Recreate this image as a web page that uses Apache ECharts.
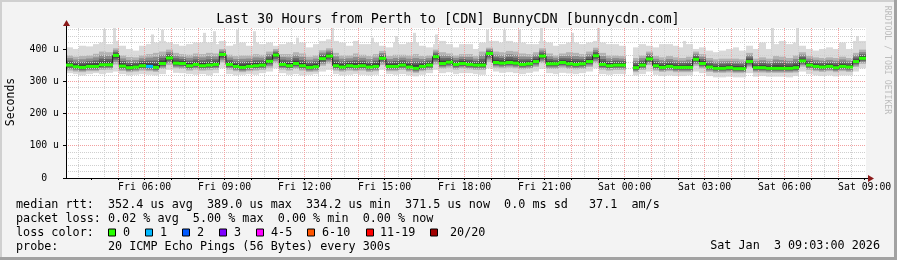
<!DOCTYPE html>
<html>
<head>
<meta charset="utf-8">
<script src="https://cdn.jsdelivr.net/npm/echarts@6/dist/echarts.min.js"></script>
<style>
  html, body { margin: 0; padding: 0; background: #f3f3f3; }
  #main { width: 897px; height: 260px; }
</style>
</head>
<body>
<div id="main"></div>
<script>
// 15 minute columns, first one starts Fri 03:03 (hours counted from Fri 00:00)
var hourStart = 3.05;
var stepH = 0.25;

// median rtt (us)
var med = [
  350,345,343,346,346,351,351,380,347,342,
  344,348,346,343,355,372,356,355,348,352,
  348,350,352,383,352,346,343,346,348,350,
  362,381,352,348,355,348,343,345,370,378,
  348,344,348,346,348,344,346,371,346,346,
  350,344,340,346,350,376,355,359,352,355,
  352,350,350,386,358,356,358,356,352,354,
  361,378,354,354,358,354,352,354,361,379,
  352,348,350,350,null,342,350,369,348,343,
  346,343,343,343,368,355,344,340,340,342,
  339,339,361,342,342,340,340,340,340,342,
  363,350,346,344,346,342,346,344,361,371
];
// lowest ping
var lo = [
  325,322,318,322,325,322,326,330,322,318,
  320,322,320,318,322,335,326,325,322,320,
  322,318,325,340,322,318,320,322,320,325,
  330,340,325,320,322,318,320,322,330,335,
  322,318,320,322,320,318,320,335,322,320,
  322,318,315,320,325,335,325,328,322,325,
  325,322,320,340,330,326,328,325,322,326,
  330,338,325,322,326,324,322,325,330,340,
  322,320,322,322,null,318,322,330,320,316,
  318,316,316,318,330,325,316,312,312,314,
  312,312,325,314,316,314,314,314,312,316,
  330,322,318,316,318,315,318,318,330,340
];
// lower edge of the dense smoke
var q1 = [
  333,330,328,331,331,335,336,352,332,328,
  330,333,331,329,338,350,340,338,333,336,
  333,334,336,358,336,331,328,331,333,335,
  342,356,336,333,338,333,329,330,348,355,
  333,330,333,331,333,329,331,350,331,331,
  335,330,326,331,335,352,339,342,336,339,
  337,335,335,360,342,340,342,340,337,338,
  344,356,338,338,342,338,337,338,344,356,
  336,333,335,335,null,328,335,350,333,329,
  331,328,328,328,348,339,329,326,326,327,
  325,325,343,327,327,326,326,326,326,327,
  345,335,331,329,331,328,331,329,344,354
];
// upper edge of the dense smoke
var q3 = [
  380,376,378,380,385,392,390,402,380,375,
  374,380,384,388,392,398,388,384,382,386,
  384,388,386,400,382,378,380,380,384,382,
  392,400,384,384,390,386,376,380,396,402,
  388,380,380,386,382,378,384,394,378,382,
  382,380,384,378,380,398,390,386,380,384,
  384,378,392,404,392,390,394,392,386,384,
  390,402,386,380,386,390,388,384,392,404,
  388,380,380,378,null,372,380,392,378,374,
  378,374,372,376,392,384,372,368,370,370,
  370,368,388,370,374,370,378,376,372,380,
  390,378,374,372,374,372,376,372,388,398
];
// highest ping (body of the smoke)
var hi = [
  405,400,410,408,415,420,415,425,410,400,
  395,410,415,420,425,420,415,410,415,420,
  420,420,415,425,410,415,420,410,420,415,
  420,410,415,420,415,420,405,415,425,430,
  425,420,410,425,415,415,420,410,405,420,
  415,420,420,410,405,415,425,415,405,415,
  415,400,420,425,425,420,425,420,420,415,
  415,425,420,410,415,420,420,415,420,425,
  420,415,415,410,null,405,415,410,405,415,
  415,410,405,415,400,405,395,390,395,400,
  405,395,410,400,420,400,415,425,415,420,
  410,400,395,400,405,400,420,400,425,425
];
// single slow pings sticking out of the smoke
var spikeHour = [4.47, 4.85, 6.27, 6.65, 8.22, 8.6, 9.46, 10.1, 11.71, 13.03, 14.52, 15.42,
  16.1, 16.92, 18.84, 19.47, 20.04, 20.86, 22.02, 23.0, 26.22, 29.52, 30.46, 32.71];
var spikeTop = [462, 465, 445, 460, 450, 455, 460, 455, 435, 465, 435, 440,
  450, 445, 460, 460, 460, 465, 450, 465, 425, 465, 465, 440];
// lost pings per column (only non zero ones)
var lossAt = { 12: 1 };

var yTicks = [0, 100, 200, 300, 400];
var xLabelHours = [6, 9, 12, 15, 18, 21, 24, 27, 30, 33];

var lossColors = ['#26ff00', '#00b8ff', '#0059ff', '#7e00ff', '#ff00ff', '#ff5500', '#ff0000', '#a10000'];
var lossLabels = ['0', '1', '2', '3', '4-5', '6-10', '11-19', '20/20'];
var lossBoxX = [108, 145, 182, 219, 256, 307, 366, 430];
var lossTextX = [123, 160, 197, 234, 271, 322, 380, 450];

var legendLines = [
  'median rtt:  352.4 us avg  389.0 us max  334.2 us min  371.5 us now  0.0 ms sd   37.1  am/s',
  'packet loss: 0.02 % avg  5.00 % max  0.00 % min  0.00 % now',
  'loss color:',
  'probe:       20 ICMP Echo Pings (56 Bytes) every 300s'
];

var mono = '"DejaVu Sans Mono", monospace';
var majorGrid = { color: '#f2a0a0', type: [1, 1], width: 1 };
var minorGrid = { color: '#cfcfcf', type: [1, 1], width: 1 };

var hourTicks = [], halfTicks = [], yMinor = [];
for (var h = 4; h <= 33; h++) hourTicks.push(h);
for (var h2 = 3.5; h2 < 33; h2 += 1) halfTicks.push(h2);
for (var v = 20; v < 465; v += 20) if (v % 100) yMinor.push(v);

var smokeData = [], lineData = [];
med.forEach(function (m, i) {
  var t = hourStart + i * stepH;
  if (m === null) { lineData.push([t + stepH / 2, '-']); return; }
  smokeData.push([t, lo[i], q1[i], m, q3[i], hi[i], lossAt[i] || 0]);
  lineData.push([t + stepH / 2, m]);
});
var spikeData = spikeHour.map(function (t, i) { return [t, spikeTop[i]]; });

function colX(api, t) {
  return Math.round(api.coord([t, 0])[0]);
}

function band(x0, x1, yTop, yBot, fill) {
  return { type: 'rect', shape: { x: x0, y: yTop, width: x1 - x0, height: Math.max(0, yBot - yTop) },
    style: { fill: fill } };
}

// smoke: light body from lowest to highest ping, darker shades towards the median
function smokeItem(params, api) {
  var t = api.value(0);
  var x0 = colX(api, t), x1 = colX(api, t + stepH);
  var yLo = api.coord([t, api.value(1)])[1];
  var yQ1 = api.coord([t, api.value(2)])[1];
  var yMed = api.coord([t, api.value(3)])[1];
  var yQ3 = api.coord([t, api.value(4)])[1];
  var yHi = api.coord([t, api.value(5)])[1];
  var shades = [[1, '#b3b3b3'], [0.72, '#8c8c8c'], [0.47, '#646464'], [0.25, '#3f3f3f']];
  var kids = [band(x0, x1, yHi, yLo, '#dadada')];
  shades.forEach(function (s) {
    kids.push(band(x0, x1, yMed - (yMed - yQ3) * s[0], yMed + (yQ1 - yMed) * s[0], s[1]));
  });
  return { type: 'group', children: kids };
}

function spikeItem(params, api) {
  var p = api.coord([api.value(0), api.value(1)]);
  var b = api.coord([api.value(0), 380]);
  return { type: 'rect', shape: { x: Math.round(p[0]) - 1, y: p[1], width: 3, height: b[1] - p[1] },
    style: { fill: '#dadada' } };
}

function medianItem(params, api) {
  var t = api.value(0);
  var x0 = colX(api, t), x1 = colX(api, t + stepH);
  var y = api.coord([t, api.value(3)])[1];
  var l = api.value(6);
  return {
    type: 'rect',
    shape: { x: x0, y: y - 1.5, width: x1 - x0, height: 3 },
    style: { fill: lossColors[l] }
  };
}

function txt(x, y, s, size, align, extra) {
  var o = { type: 'text', x: x, y: y, z: 10, style: { text: s, font: size + 'px ' + mono, fill: '#000',
    align: align, verticalAlign: 'middle', textAlign: align, textVerticalAlign: 'middle' } };
  if (extra) for (var k in extra) o[k] = extra[k];
  return o;
}

var graphics = [
  { type: 'rect', shape: { x: 0, y: 0, width: 897, height: 2 }, style: { fill: '#d0d0d0' } },
  { type: 'rect', shape: { x: 0, y: 0, width: 2, height: 260 }, style: { fill: '#d0d0d0' } },
  { type: 'rect', shape: { x: 894, y: 0, width: 3, height: 260 }, style: { fill: '#a2a2a2' } },
  { type: 'rect', shape: { x: 0, y: 257, width: 897, height: 3 }, style: { fill: '#a2a2a2' } },
  txt(448, 19, 'Last 30 Hours from Perth to [CDN] BunnyCDN [bunnycdn.com]', 13.5, 'center'),
  txt(11, 102, 'Seconds', 11.5, 'center', { rotation: Math.PI / 2 }),
  // axis extensions + arrows
  { type: 'line', shape: { x1: 866, y1: 178.5, x2: 869, y2: 178.5 }, style: { stroke: '#000', lineWidth: 1 } },
  { type: 'polygon', shape: { points: [[868, 175], [874, 178.5], [868, 182]] }, style: { fill: '#8b1a1a' } },
  { type: 'line', shape: { x1: 66.5, y1: 28, x2: 66.5, y2: 25 }, style: { stroke: '#000', lineWidth: 1 } },
  { type: 'polygon', shape: { points: [[63, 26], [66.5, 20], [70, 26]] }, style: { fill: '#8b1a1a' } },
  txt(880, 246, 'Sat Jan  3 09:03:00 2026', 11.75, 'right')
];
var wm = txt(887, 60, 'RRDTOOL / TOBI OETIKER', 8.2, 'center', { rotation: -Math.PI / 2 });
wm.style.fill = '#bdbdbd';
graphics.push(wm);
legendLines.forEach(function (s, i) {
  graphics.push(txt(16, 204.5 + i * 14, s, 11.75, 'left'));
});
lossLabels.forEach(function (s, i) {
  graphics.push({ type: 'rect', shape: { x: lossBoxX[i] + 0.5, y: 229, width: 7, height: 7 },
    style: { fill: lossColors[i], stroke: '#000', lineWidth: 1 } });
  graphics.push(txt(lossTextX[i], 232.5, s, 11.75, 'left'));
});

var myChart = echarts.init(document.getElementById('main'));
var option = {
  backgroundColor: '#f3f3f3',
  animation: false,
  textStyle: { fontFamily: mono },
  grid: { left: 66, right: 31, top: 28, bottom: 82, show: true, backgroundColor: '#ffffff', borderWidth: 0 },
  xAxis: [
    {
      type: 'value', min: hourStart, max: hourStart + 30, z: 3,
      axisLine: { show: true, lineStyle: { color: '#000', width: 1 } },
      axisTick: { show: true, length: 2, customValues: hourTicks, lineStyle: { color: '#000' } },
      axisLabel: {
        customValues: xLabelHours, margin: 4, color: '#000', fontSize: 9.8, fontFamily: mono,
        formatter: function (v) {
          var h = Math.round(v);
          var d = h < 24 ? 'Fri' : 'Sat';
          var hh = h % 24;
          return d + ' ' + (hh < 10 ? '0' : '') + hh + ':00';
        }
      },
      splitLine: { show: true, showMinLine: false, showMaxLine: false, lineStyle: majorGrid }
    },
    {
      type: 'value', min: hourStart, max: hourStart + 30, position: 'bottom', z: 3,
      axisLine: { show: false },
      axisTick: { show: true, length: 0, customValues: halfTicks },
      axisLabel: { show: false },
      splitLine: { show: true, lineStyle: minorGrid }
    }
  ],
  yAxis: [
    {
      type: 'value', min: 0, max: 465, interval: 100, z: 4,
      axisLine: { show: true, lineStyle: { color: '#000', width: 1 } },
      axisTick: { show: true, length: 3, customValues: yTicks, lineStyle: { color: '#000' } },
      axisLabel: {
        customValues: yTicks, margin: 7, color: '#000', fontSize: 9.8, fontFamily: mono,
        formatter: function (v) { return v === 0 ? '0  ' : v + ' u'; }
      },
      splitLine: { show: true, showMinLine: false, showMaxLine: false, lineStyle: majorGrid }
    },
    {
      type: 'value', min: 0, max: 465, position: 'left', z: 3,
      axisLine: { show: false },
      axisTick: { show: true, length: 0, customValues: yMinor },
      axisLabel: { show: false },
      splitLine: { show: true, lineStyle: minorGrid }
    }
  ],
  series: [
    {
      type: 'custom', name: 'spikes', renderItem: spikeItem, data: spikeData, clip: true, z: 1,
      encode: { x: 0, y: 1 }, silent: true
    },
    {
      type: 'custom', name: 'smoke', renderItem: smokeItem, data: smokeData, clip: true, z: 2,
      encode: { x: 0, y: [1, 5] }, silent: true
    },
    {
      type: 'line', name: 'median', data: lineData, step: 'middle', showSymbol: false,
      connectNulls: false, lineStyle: { color: '#202020', width: 1 }, z: 5, silent: true
    },
    {
      type: 'custom', name: 'loss', renderItem: medianItem, data: smokeData, clip: true, z: 6,
      encode: { x: 0, y: 3 }, silent: true
    }
  ],
  graphic: graphics
};
myChart.setOption(option);
</script>
</body>
</html>
